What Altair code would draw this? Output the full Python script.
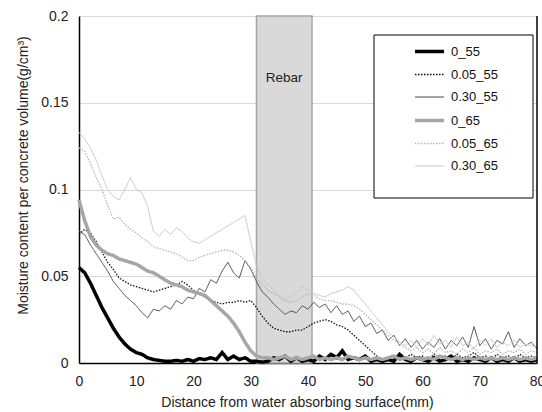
import altair as alt
import pandas as pd

distance_mm = list(range(0, 81))

series_names = ["0_55", "0.05_55", "0.30_55", "0_65", "0.05_65", "0.30_65"]

s0_55 = [0.055, 0.052, 0.046, 0.039, 0.032, 0.026, 0.020, 0.015, 0.011, 0.008,
         0.006, 0.005, 0.003, 0.002, 0.0015, 0.001, 0.001, 0.0015, 0.001, 0.002,
         0.001, 0.0025, 0.002, 0.003, 0.002, 0.006, 0.002, 0.004, 0.002, 0.003,
         0.001, 0.001, 0.0005, 0.001, 0.003, 0.002, 0.004, 0.001, 0.003, 0.001,
         0.002, 0.001, 0.004, 0.002, 0.005, 0.003, 0.007, 0.002, 0.003, 0.002,
         0.004, 0.001, 0.002, 0.001, 0.002, 0.001, 0.005, 0.002, 0.001, 0.003,
         0.002, 0.001, 0.003, 0.001, 0.002, 0.004, 0.001, 0.002, 0.001, 0.003,
         0.002, 0.001, 0.003, 0.001, 0.002, 0.001, 0.003, 0.001, 0.002, 0.001,
         0.002]

s005_55 = [0.074, 0.077, 0.075, 0.070, 0.064, 0.058, 0.054, 0.049, 0.047, 0.045,
           0.044, 0.043, 0.042, 0.041, 0.042, 0.043, 0.044, 0.045, 0.047, 0.045,
           0.042, 0.040, 0.038, 0.036, 0.035, 0.034, 0.035, 0.035, 0.036, 0.035,
           0.036, 0.032, 0.027, 0.023, 0.020, 0.019, 0.018, 0.018, 0.019, 0.019,
           0.021, 0.023, 0.024, 0.025, 0.024, 0.022, 0.021, 0.019, 0.016, 0.013,
           0.010, 0.007, 0.004, 0.002, 0.003, 0.002, 0.004, 0.003, 0.005, 0.003,
           0.004, 0.002, 0.005, 0.003, 0.004, 0.002, 0.005, 0.003, 0.004, 0.006,
           0.003, 0.004, 0.002, 0.005, 0.003, 0.004, 0.002, 0.005, 0.003, 0.004,
           0.003]

s030_55 = [0.076, 0.074, 0.068, 0.063, 0.058, 0.053, 0.047, 0.043, 0.039, 0.036,
           0.033, 0.029, 0.026, 0.031, 0.030, 0.033, 0.031, 0.036, 0.034, 0.038,
           0.037, 0.043, 0.041, 0.048, 0.046, 0.053, 0.058, 0.052, 0.049, 0.059,
           0.054, 0.047, 0.041, 0.038, 0.034, 0.031, 0.028, 0.030, 0.029, 0.033,
           0.031, 0.035, 0.032, 0.034, 0.029, 0.033, 0.028, 0.030, 0.024, 0.027,
           0.021, 0.023, 0.017, 0.019, 0.013, 0.016, 0.010, 0.014, 0.009, 0.013,
           0.008, 0.012, 0.009, 0.014, 0.008, 0.013, 0.010, 0.015, 0.009, 0.021,
           0.010, 0.014, 0.008, 0.013, 0.011, 0.018, 0.009, 0.014, 0.010, 0.012,
           0.008]

s0_65 = [0.094, 0.082, 0.073, 0.068, 0.065, 0.063, 0.062, 0.060, 0.059, 0.058,
         0.057, 0.055, 0.053, 0.052, 0.050, 0.048, 0.046, 0.045, 0.044, 0.042,
         0.041, 0.040, 0.039, 0.036, 0.033, 0.030, 0.027, 0.023, 0.018, 0.012,
         0.007, 0.004, 0.003, 0.003, 0.002, 0.003, 0.004, 0.002, 0.003, 0.002,
         0.003, 0.004, 0.002, 0.003, 0.002, 0.003, 0.002, 0.004, 0.003, 0.002,
         0.003, 0.002, 0.003, 0.002, 0.003, 0.004, 0.002, 0.003, 0.002, 0.003,
         0.002, 0.003, 0.002, 0.004, 0.003, 0.002, 0.003, 0.002, 0.003, 0.002,
         0.003, 0.002, 0.003, 0.002, 0.003, 0.002, 0.003, 0.002, 0.003, 0.002,
         0.003]

s005_65 = [0.124, 0.122, 0.115, 0.107, 0.100, 0.091, 0.083, 0.084, 0.080, 0.077,
           0.075, 0.072, 0.070, 0.067, 0.066, 0.065, 0.064, 0.063, 0.061, 0.059,
           0.059, 0.061, 0.062, 0.063, 0.064, 0.065, 0.065, 0.064, 0.062, 0.059,
           0.055, 0.049, 0.045, 0.042, 0.040, 0.038, 0.036, 0.035, 0.036, 0.038,
           0.040, 0.039, 0.037, 0.036, 0.036, 0.035, 0.034, 0.034, 0.033, 0.031,
           0.028, 0.025, 0.022, 0.019, 0.016, 0.013, 0.011, 0.009, 0.007, 0.009,
           0.006, 0.008, 0.005, 0.009, 0.006, 0.007, 0.005, 0.008, 0.006, 0.009,
           0.005, 0.007, 0.006, 0.008, 0.005, 0.007, 0.006, 0.008, 0.005, 0.007,
           0.006]

s030_65 = [0.133, 0.129, 0.124, 0.117, 0.108, 0.100, 0.096, 0.094, 0.100, 0.107,
           0.100, 0.098, 0.090, 0.076, 0.073, 0.077, 0.074, 0.078, 0.076, 0.072,
           0.070, 0.069, 0.071, 0.073, 0.075, 0.077, 0.079, 0.081, 0.083, 0.085,
           0.070, 0.056, 0.049, 0.045, 0.042, 0.039, 0.037, 0.038, 0.041, 0.044,
           0.042, 0.040, 0.039, 0.038, 0.040, 0.041, 0.042, 0.044, 0.042, 0.038,
           0.034, 0.030, 0.026, 0.022, 0.018, 0.015, 0.012, 0.010, 0.013, 0.009,
           0.014, 0.010, 0.016, 0.011, 0.013, 0.009, 0.015, 0.010, 0.012, 0.008,
           0.013, 0.010, 0.014, 0.009, 0.012, 0.010, 0.013, 0.009, 0.011, 0.010,
           0.009]

rebar_start = [31.0]
rebar_end = [40.7]
rebar_label = ["Rebar"]
rebar_label_y = [0.164]

series_colors = ["#000000", "#111111", "#4a4a4a", "#a6a6a6", "#b4b4b4", "#c8c8c8"]
series_widths = [3.5, 1.3, 1.0, 3.5, 1.3, 1.0]
series_dashes = [[1, 0], [1.5, 1.5], [1, 0], [1, 0], [1.5, 1.5], [1, 0]]

all_values = [s0_55, s005_55, s030_55, s0_65, s005_65, s030_65]
rows = []
for order, (name, vals) in enumerate(zip(series_names, all_values)):
    for d, v in zip(distance_mm, vals):
        rows.append({"x": d, "y": v, "series": name, "order": order})
df = pd.DataFrame(rows)

rebar_df = pd.DataFrame({"x": rebar_start, "x2": rebar_end, "label": rebar_label,
                         "ly": rebar_label_y})

FONT = "Liberation Sans"
xscale = alt.Scale(domain=[0, 80], nice=False)
yscale = alt.Scale(domain=[0, 0.2], nice=False)

band = alt.Chart(rebar_df).mark_rect(color="#d9d9d9", stroke="#a6a6a6", strokeWidth=1.5).encode(
    x=alt.X("x:Q", scale=xscale),
    x2="x2:Q",
    y=alt.datum(0, scale=yscale),
    y2=alt.datum(0.2),
)

band_text = alt.Chart(rebar_df).mark_text(font=FONT, fontSize=13.5, color="#222222").encode(
    x=alt.X("mid:Q", scale=xscale),
    y=alt.Y("ly:Q", scale=yscale),
    text="label:N",
).transform_calculate(mid="(datum.x + datum.x2) / 2")

lines = alt.Chart(df).mark_line(interpolate="linear").encode(
    x=alt.X("x:Q", scale=xscale,
            axis=alt.Axis(values=list(range(0, 81, 10)), title="Distance from water absorbing surface(mm)",
                          grid=False, ticks=False, domainColor="#000000", domainWidth=1.5,
                          labelPadding=11, titlePadding=7, titleX=218, titleAlign="center",
                          labelFlush=False, labelOverlap=False)),
    y=alt.Y("y:Q", scale=yscale,
            axis=alt.Axis(values=[0, 0.05, 0.1, 0.15, 0.2], format="~g",
                          title="Moisture content per concrete volume(g/cm³)",
                          grid=True, gridColor="#d9d9d9", ticks=False, domainColor="#000000",
                          domainWidth=1.5, labelPadding=11, titlePadding=10,
                          titleY=159, titleAlign="center", labelFlush=False)),
    color=alt.Color("series:N", scale=alt.Scale(domain=series_names, range=series_colors),
                    legend=alt.Legend(title=None, orient="none", legendX=334, legendY=19,
                                      symbolType="stroke", symbolSize=841, rowPadding=-2,
                                      labelOffset=5, labelFont=FONT, labelFontSize=13,
                                      labelColor="#111111", padding=0)),
    strokeWidth=alt.StrokeWidth("series:N", scale=alt.Scale(type="ordinal", domain=series_names,
                                                            range=series_widths)),
    strokeDash=alt.StrokeDash("series:N", scale=alt.Scale(domain=series_names, range=series_dashes)),
    order="order:Q",
)

legend_box = alt.Chart(rebar_df).mark_rect(fill="white", stroke="#000000", strokeWidth=1).encode(
    x=alt.value(295), x2=alt.value(454), y=alt.value(19), y2=alt.value(182)
)

right_border = alt.Chart(rebar_df).mark_rule(color="#000000", strokeWidth=1.5).encode(
    x=alt.datum(80, scale=xscale), y=alt.datum(0, scale=yscale), y2=alt.datum(0.2)
)

chart = alt.layer(band, band_text, lines, right_border, legend_box).properties(
    width=458, height=347,
    padding={"left": 79, "top": 16, "right": 5, "bottom": 49},
    autosize=alt.AutoSizeParams(type="none"),
).configure_view(stroke=None).configure_axis(
    labelFont=FONT, titleFont=FONT, labelFontSize=14, titleFontSize=14,
    labelColor="#222222", titleColor="#222222", titleFontWeight="normal",
).resolve_scale(x="shared", y="shared")

chart.save("out.html", embed_options={"renderer": "svg", "actions": False})
